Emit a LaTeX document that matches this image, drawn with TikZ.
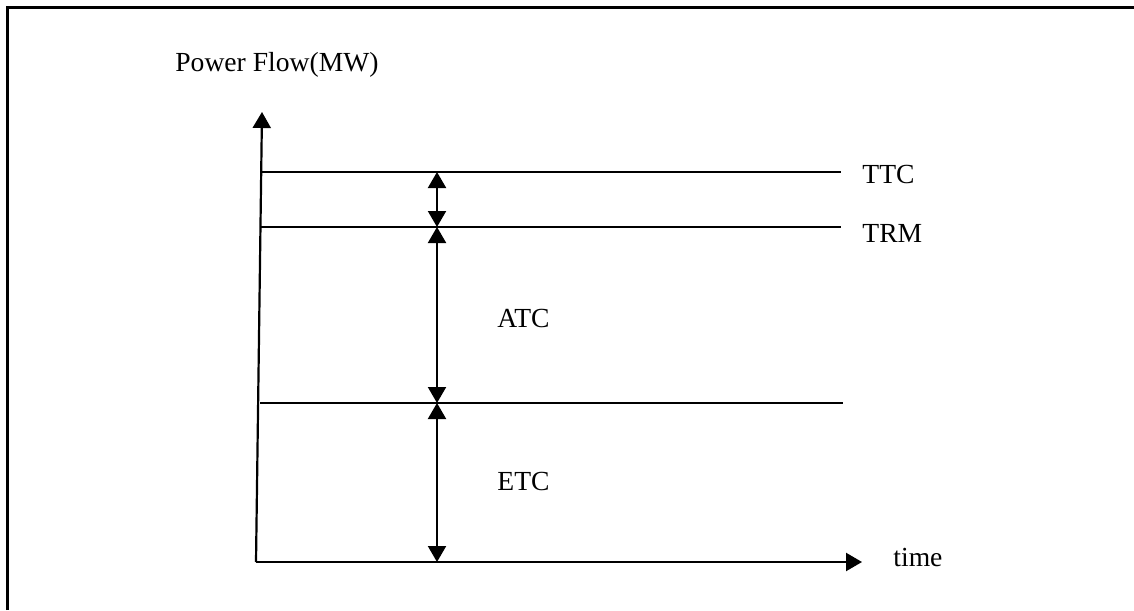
\documentclass[tikz,border=0pt]{standalone}
\usepackage{fontspec}
\setmainfont{Liberation Serif}
\usepackage{tikz}
\usetikzlibrary{arrows.meta}
\tikzset{
  ax/.style={line width=1.1pt, -{Triangle[width=9pt,length=8pt]}},
  lvl/.style={line width=0.8pt},
  span/.style={line width=1pt, {Triangle[width=9pt,length=8pt]}-{Triangle[width=9pt,length=8pt]}},
  lbl/.style={font=\fontsize{13.8}{16}\selectfont, inner sep=0pt, anchor=base west},
}

\begin{document}
\begin{tikzpicture}[x=0.5pt, y=-0.5pt]
  \useasboundingbox (0,0) rectangle (1134,610);
  % frame
  \draw[line width=1.5pt] (7,610) -- (7,8) -- (1134,8);

  % axes
  \coordinate (O) at (256,562);
  \coordinate (ytip) at (262,112);
  \coordinate (xtip) at (862,562);
  \draw[ax] (O) -- (ytip);
  \draw[ax] (O) -- (xtip);
  \node[lbl] (ylab) at (175,72) {Power Flow(MW)};
  \node[lbl] (xlab) at (893,566) {time};

  % levels
  \coordinate (ttcL) at (262,172);
  \coordinate (ttcR) at (841,172);
  \coordinate (trmL) at (261,227);
  \coordinate (trmR) at (841,227);
  \coordinate (etcL) at (260,403);
  \coordinate (etcR) at (843,403);
  \draw[lvl] (ttcL) -- (ttcR);
  \draw[lvl] (trmL) -- (trmR);
  \draw[lvl] (etcL) -- (etcR);
  \node[lbl] (ttc) at (862,183) {TTC};
  \node[lbl] (trm) at (862,242) {TRM};

  % spans
  \coordinate (a1) at (437,172);
  \coordinate (a2) at (437,227);
  \coordinate (a3) at (437,403);
  \coordinate (a4) at (437,562);
  \draw[span] (a1) -- (a2);
  \draw[span] (a2) -- (a3);
  \draw[span] (a3) -- (a4);
  \node[lbl] (atc) at (497,327) {ATC};
  \node[lbl] (etc) at (497,490) {ETC};
\end{tikzpicture}
\end{document}
